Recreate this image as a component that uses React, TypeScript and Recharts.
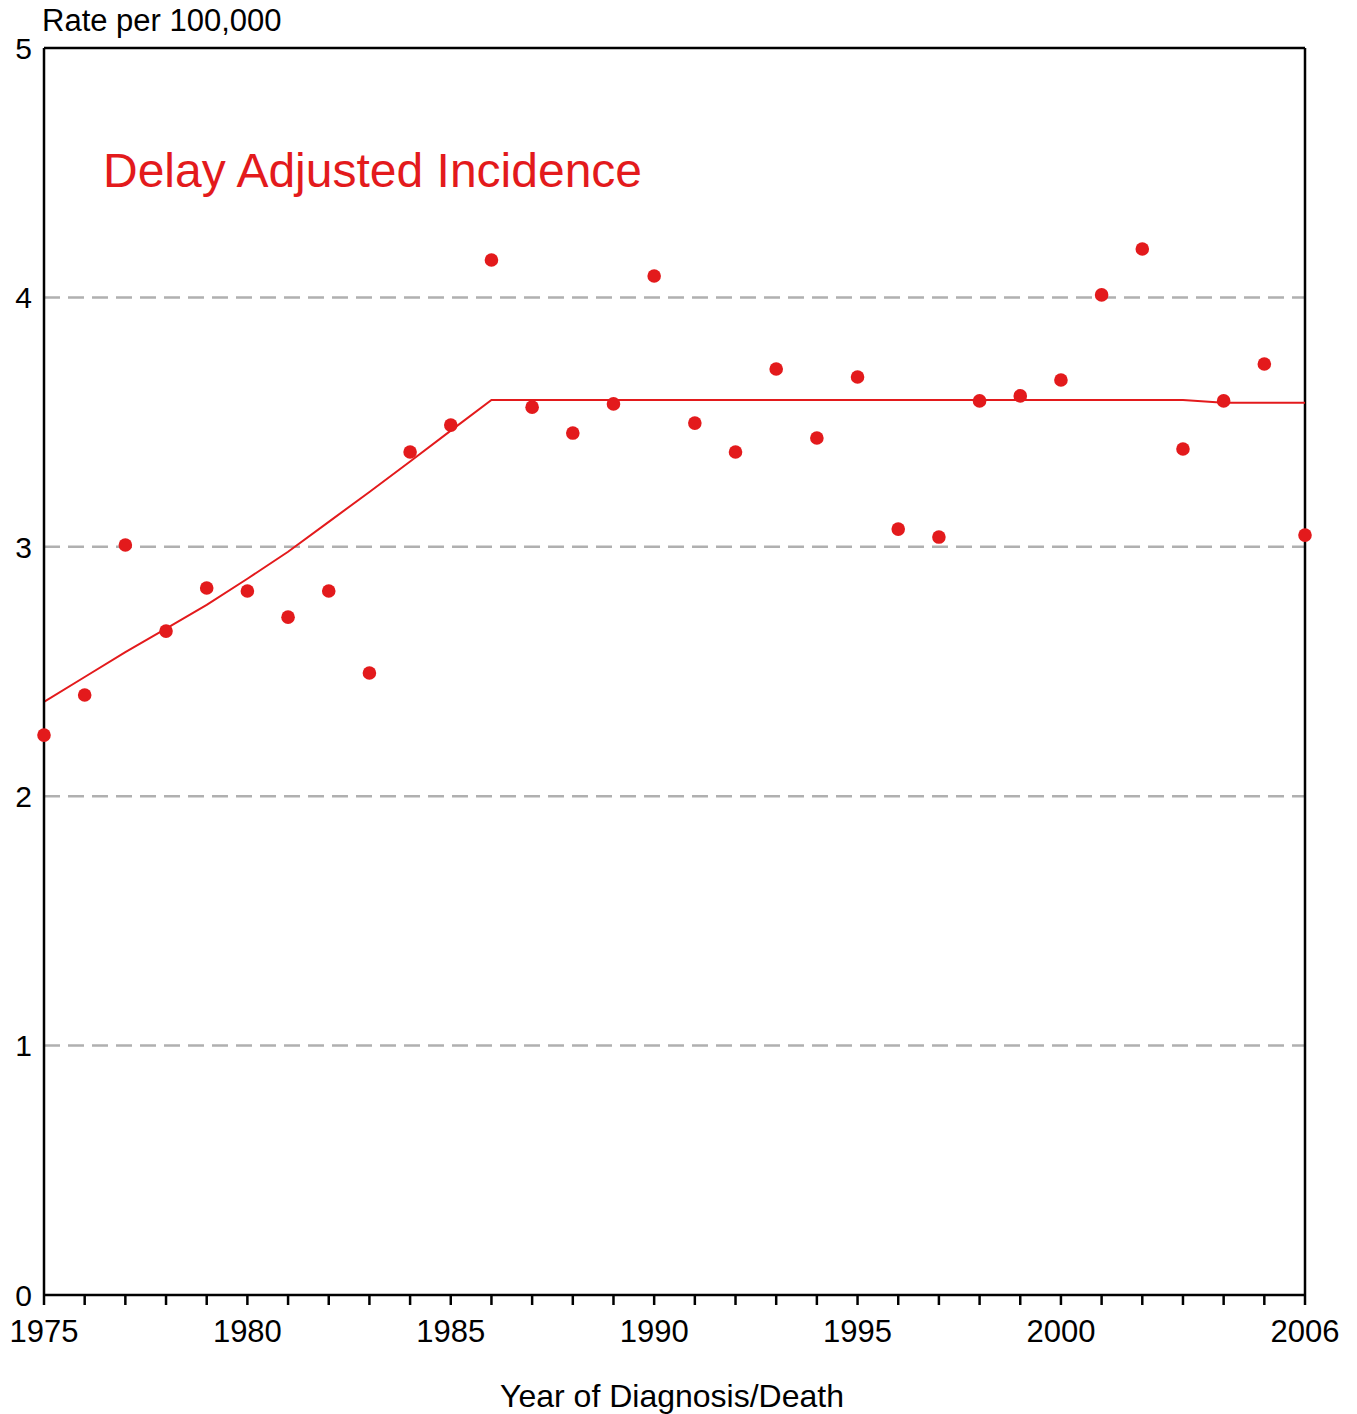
import React from 'react';
import { ComposedChart, Line, XAxis, YAxis, CartesianGrid, ReferenceLine } from 'recharts';

const years = [1975, 1976, 1977, 1978, 1979, 1980, 1981, 1982, 1983, 1984, 1985, 1986, 1987, 1988, 1989, 1990,
  1991, 1992, 1993, 1994, 1995, 1996, 1997, 1998, 1999, 2000, 2001, 2002, 2003, 2004, 2005, 2006];

const observedRates = [2.245, 2.406, 3.007, 2.662, 2.835, 2.823, 2.718, 2.823, 2.494, 3.380, 3.488, 4.150, 3.560, 3.456, 3.573, 4.086,
  3.496, 3.380, 3.713, 3.436, 3.681, 3.071, 3.039, 3.585, 3.605, 3.669, 4.010, 4.194, 3.392, 3.585, 3.733, 3.047];

const trendRates = [2.378, 2.478, 2.578, 2.672, 2.767, 2.872, 2.980, 3.100, 3.220, 3.342, 3.466, 3.589, 3.589, 3.589, 3.589, 3.589,
  3.589, 3.589, 3.589, 3.589, 3.589, 3.589, 3.589, 3.589, 3.589, 3.589, 3.589, 3.589, 3.589, 3.578, 3.578, 3.578];

const xTickLabels = [1975, 1980, 1985, 1990, 1995, 2000, 2006];
const yTicks = [0, 1, 2, 3, 4, 5];
const gridTicks = [1, 2, 3, 4];

const data = years.map((year, i) => ({ year, rate: observedRates[i], trend: trendRates[i] }));

const RED = '#E31A1C';
const FONT = '"Liberation Sans", Arial, Helvetica, sans-serif';

const XTick = (props: any) => {
  const { x, y, payload } = props;
  if (!xTickLabels.includes(payload.value)) return null;
  return (
    <text x={x} y={y + 35} textAnchor="middle" fontFamily={FONT} fontSize={31} fill="#000">
      {payload.value}
    </text>
  );
};

const YTick = (props: any) => {
  const { x, y, payload } = props;
  return (
    <text x={x} y={y} dy="0.36em" textAnchor="end" fontFamily={FONT} fontSize={30} fill="#000">
      {payload.value}
    </text>
  );
};

export default function App() {
  return (
    <div style={{ position: 'absolute', left: 0, top: 0, width: 1357, height: 1414, background: '#fff' }}>
      <ComposedChart width={1357} height={1414} data={data} margin={{ top: 48, right: 52, left: 0, bottom: 0 }}>
        <CartesianGrid horizontal vertical={false} horizontalValues={gridTicks} stroke="#b0b0b0" strokeWidth={2.5} strokeDasharray="16 8" />
        <XAxis
          dataKey="year"
          type="number"
          domain={[1975, 2006]}
          ticks={years}
          interval={0}
          height={119}
          tickSize={10}
          tickLine={{ stroke: '#000', strokeWidth: 2.5 }}
          axisLine={{ stroke: '#000', strokeWidth: 2.5 }}
          tick={<XTick />}
        />
        <YAxis
          type="number"
          domain={[0, 5]}
          ticks={yTicks}
          interval={0}
          width={44}
          tickLine={false}
          tickSize={6}
          tickMargin={6}
          axisLine={{ stroke: '#000', strokeWidth: 2.5 }}
          tick={<YTick />}
        />
        <ReferenceLine y={5} stroke="#000" strokeWidth={2.5} />
        <ReferenceLine x={2006} stroke="#000" strokeWidth={2.5} />
        <Line dataKey="trend" type="linear" stroke={RED} strokeWidth={2} dot={false} activeDot={false} isAnimationActive={false} />
        <Line dataKey="rate" type="linear" stroke="none" dot={{ r: 6.8, fill: RED, stroke: 'none' }} activeDot={false} isAnimationActive={false} />
      </ComposedChart>
      <svg width={1357} height={1414} style={{ position: 'absolute', left: 0, top: 0, pointerEvents: 'none' }}>
        <text x={42} y={31} fontFamily={FONT} fontSize={31} fill="#000">Rate per 100,000</text>
        <text x={103} y={187} fontFamily={FONT} fontSize={48} fill={RED}>Delay Adjusted Incidence</text>
        <text x={672} y={1407} textAnchor="middle" fontFamily={FONT} fontSize={32} fill="#000">Year of Diagnosis/Death</text>
      </svg>
    </div>
  );
}
